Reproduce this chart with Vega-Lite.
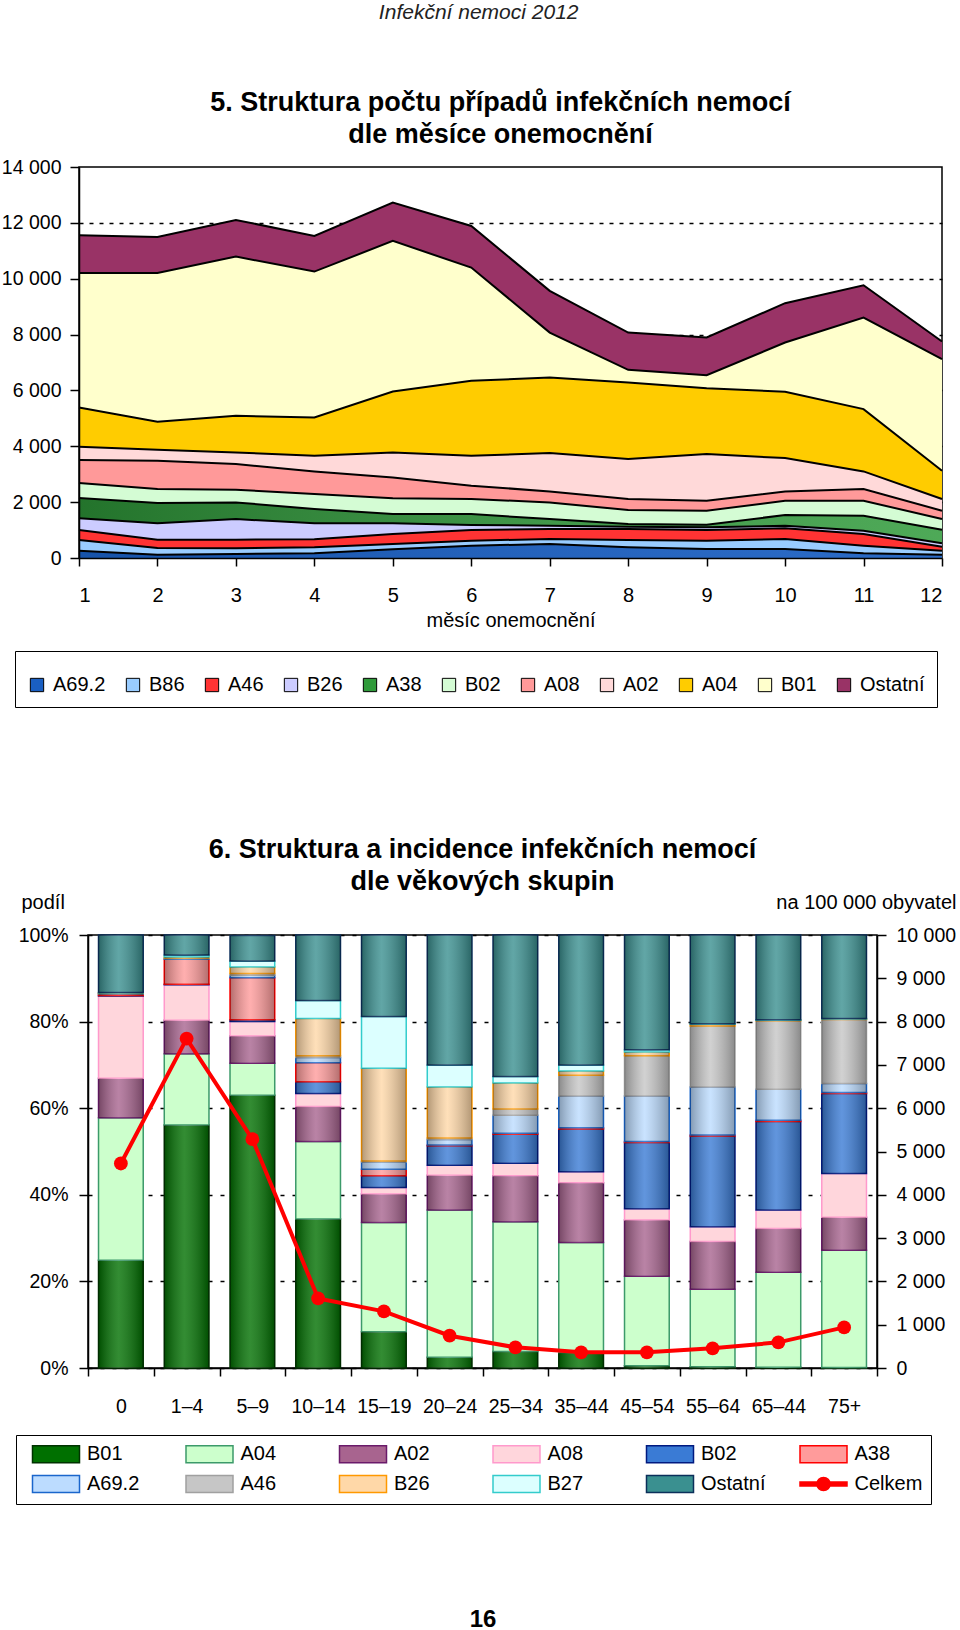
{
  "$schema": "https://vega.github.io/schema/vega-lite/v6.json",
  "padding": {"top": 2, "left": 0, "right": 0, "bottom": 0},
  "background": "white",
  "title": {"text": "Infekční nemoci 2012", "font": "Liberation Sans", "fontSize": 21, "fontStyle": "italic", "fontWeight": "normal", "color": "#222222", "anchor": "middle", "offset": 65},
  "bounds": "flush",
  "spacing": 377,
  "resolve": {"scale": {"fill": "independent", "stroke": "independent", "shape": "independent"}, "legend": {"fill": "independent", "stroke": "independent", "shape": "independent"}},
  "datasets": {
    "months": [
      {"m":1,"s":"A69.2","v":262},{"m":1,"s":"B86","v":382},{"m":1,"s":"A46","v":358},{"m":1,"s":"B26","v":417},{"m":1,"s":"A38","v":728},{"m":1,"s":"B02","v":536},{"m":1,"s":"A08","v":823},{"m":1,"s":"A02","v":477},{"m":1,"s":"A04","v":1407},{"m":1,"s":"B01","v":4818},{"m":1,"s":"Ostatní","v":1347},
      {"m":2,"s":"A69.2","v":119},{"m":2,"s":"B86","v":239},{"m":2,"s":"A46","v":298},{"m":2,"s":"B26","v":584},{"m":2,"s":"A38","v":728},{"m":2,"s":"B02","v":500},{"m":2,"s":"A08","v":1014},{"m":2,"s":"A02","v":394},{"m":2,"s":"A04","v":1001},{"m":2,"s":"B01","v":5331},{"m":2,"s":"Ostatní","v":1288},
      {"m":3,"s":"A69.2","v":143},{"m":3,"s":"B86","v":203},{"m":3,"s":"A46","v":310},{"m":3,"s":"B26","v":739},{"m":3,"s":"A38","v":596},{"m":3,"s":"B02","v":454},{"m":3,"s":"A08","v":918},{"m":3,"s":"A02","v":417},{"m":3,"s":"A04","v":1312},{"m":3,"s":"B01","v":5700},{"m":3,"s":"Ostatní","v":1312},
      {"m":4,"s":"A69.2","v":167},{"m":4,"s":"B86","v":215},{"m":4,"s":"A46","v":286},{"m":4,"s":"B26","v":572},{"m":4,"s":"A38","v":513},{"m":4,"s":"B02","v":537},{"m":4,"s":"A08","v":810},{"m":4,"s":"A02","v":561},{"m":4,"s":"A04","v":1371},{"m":4,"s":"B01","v":5224},{"m":4,"s":"Ostatní","v":1276},
      {"m":5,"s":"A69.2","v":310},{"m":5,"s":"B86","v":191},{"m":5,"s":"A46","v":358},{"m":5,"s":"B26","v":381},{"m":5,"s":"A38","v":334},{"m":5,"s":"B02","v":561},{"m":5,"s":"A08","v":751},{"m":5,"s":"A02","v":894},{"m":5,"s":"A04","v":2183},{"m":5,"s":"B01","v":5390},{"m":5,"s":"Ostatní","v":1371},
      {"m":6,"s":"A69.2","v":441},{"m":6,"s":"B86","v":179},{"m":6,"s":"A46","v":382},{"m":6,"s":"B26","v":179},{"m":6,"s":"A38","v":393},{"m":6,"s":"B02","v":537},{"m":6,"s":"A08","v":477},{"m":6,"s":"A02","v":1073},{"m":6,"s":"A04","v":2683},{"m":6,"s":"B01","v":4055},{"m":6,"s":"Ostatní","v":1490},
      {"m":7,"s":"A69.2","v":501},{"m":7,"s":"B86","v":179},{"m":7,"s":"A46","v":357},{"m":7,"s":"B26","v":120},{"m":7,"s":"A38","v":238},{"m":7,"s":"B02","v":596},{"m":7,"s":"A08","v":394},{"m":7,"s":"A02","v":1371},{"m":7,"s":"A04","v":2707},{"m":7,"s":"B01","v":1610},{"m":7,"s":"Ostatní","v":1491},
      {"m":8,"s":"A69.2","v":382},{"m":8,"s":"B86","v":262},{"m":8,"s":"A46","v":393},{"m":8,"s":"B26","v":84},{"m":8,"s":"A38","v":95},{"m":8,"s":"B02","v":501},{"m":8,"s":"A08","v":394},{"m":8,"s":"A02","v":1431},{"m":8,"s":"A04","v":2742},{"m":8,"s":"B01","v":454},{"m":8,"s":"Ostatní","v":1335},
      {"m":9,"s":"A69.2","v":322},{"m":9,"s":"B86","v":298},{"m":9,"s":"A46","v":382},{"m":9,"s":"B26","v":95},{"m":9,"s":"A38","v":96},{"m":9,"s":"B02","v":500},{"m":9,"s":"A08","v":358},{"m":9,"s":"A02","v":1670},{"m":9,"s":"A04","v":2361},{"m":9,"s":"B01","v":465},{"m":9,"s":"Ostatní","v":1347},
      {"m":10,"s":"A69.2","v":322},{"m":10,"s":"B86","v":358},{"m":10,"s":"A46","v":381},{"m":10,"s":"B26","v":96},{"m":10,"s":"A38","v":381},{"m":10,"s":"B02","v":513},{"m":10,"s":"A08","v":334},{"m":10,"s":"A02","v":1193},{"m":10,"s":"A04","v":2373},{"m":10,"s":"B01","v":1764},{"m":10,"s":"Ostatní","v":1408},
      {"m":11,"s":"A69.2","v":167},{"m":11,"s":"B86","v":274},{"m":11,"s":"A46","v":418},{"m":11,"s":"B26","v":119},{"m":11,"s":"A38","v":536},{"m":11,"s":"B02","v":537},{"m":11,"s":"A08","v":417},{"m":11,"s":"A02","v":632},{"m":11,"s":"A04","v":2230},{"m":11,"s":"B01","v":3280},{"m":11,"s":"Ostatní","v":1157},
      {"m":12,"s":"A69.2","v":119},{"m":12,"s":"B86","v":143},{"m":12,"s":"A46","v":143},{"m":12,"s":"B26","v":120},{"m":12,"s":"A38","v":489},{"m":12,"s":"B02","v":381},{"m":12,"s":"A08","v":298},{"m":12,"s":"A02","v":418},{"m":12,"s":"A04","v":1013},{"m":12,"s":"B01","v":3995},{"m":12,"s":"Ostatní","v":632}
    ],
    "ages": [
      {"a":"0","s":"B01","p":24.9},{"a":"0","s":"A04","p":32.9},{"a":"0","s":"A02","p":9.1},{"a":"0","s":"A08","p":19.0},{"a":"0","s":"B02","p":0.1},{"a":"0","s":"A38","p":0.4},{"a":"0","s":"A69.2","p":0.1},{"a":"0","s":"B26","p":0.1},{"a":"0","s":"B27","p":0.1},{"a":"0","s":"Ostatní","p":13.3},
      {"a":"1–4","s":"B01","p":56.1},{"a":"1–4","s":"A04","p":16.5},{"a":"1–4","s":"A02","p":7.7},{"a":"1–4","s":"A08","p":8.2},{"a":"1–4","s":"B02","p":0.1},{"a":"1–4","s":"A38","p":5.8},{"a":"1–4","s":"A69.2","p":0.2},{"a":"1–4","s":"A46","p":0.1},{"a":"1–4","s":"B26","p":0.2},{"a":"1–4","s":"B27","p":0.5},{"a":"1–4","s":"Ostatní","p":4.6},
      {"a":"5–9","s":"B01","p":63.0},{"a":"5–9","s":"A04","p":7.4},{"a":"5–9","s":"A02","p":6.3},{"a":"5–9","s":"A08","p":3.3},{"a":"5–9","s":"B02","p":0.4},{"a":"5–9","s":"A38","p":9.7},{"a":"5–9","s":"A69.2","p":0.6},{"a":"5–9","s":"A46","p":0.4},{"a":"5–9","s":"B26","p":1.5},{"a":"5–9","s":"B27","p":1.4},{"a":"5–9","s":"Ostatní","p":5.9},
      {"a":"10–14","s":"B01","p":34.4},{"a":"10–14","s":"A04","p":17.9},{"a":"10–14","s":"A02","p":8.1},{"a":"10–14","s":"A08","p":3.0},{"a":"10–14","s":"B02","p":2.7},{"a":"10–14","s":"A38","p":4.4},{"a":"10–14","s":"A69.2","p":1.2},{"a":"10–14","s":"A46","p":0.4},{"a":"10–14","s":"B26","p":8.6},{"a":"10–14","s":"B27","p":4.2},{"a":"10–14","s":"Ostatní","p":15.1},
      {"a":"15–19","s":"B01","p":8.4},{"a":"15–19","s":"A04","p":25.2},{"a":"15–19","s":"A02","p":6.6},{"a":"15–19","s":"A08","p":1.5},{"a":"15–19","s":"B02","p":2.7},{"a":"15–19","s":"A38","p":1.5},{"a":"15–19","s":"A69.2","p":1.7},{"a":"15–19","s":"A46","p":0.2},{"a":"15–19","s":"B26","p":21.4},{"a":"15–19","s":"B27","p":12.0},{"a":"15–19","s":"Ostatní","p":18.8},
      {"a":"20–24","s":"B01","p":2.5},{"a":"20–24","s":"A04","p":34.0},{"a":"20–24","s":"A02","p":8.0},{"a":"20–24","s":"A08","p":2.3},{"a":"20–24","s":"B02","p":4.5},{"a":"20–24","s":"A38","p":0.2},{"a":"20–24","s":"A69.2","p":1.3},{"a":"20–24","s":"A46","p":0.3},{"a":"20–24","s":"B26","p":11.8},{"a":"20–24","s":"B27","p":5.1},{"a":"20–24","s":"Ostatní","p":30.0},
      {"a":"25–34","s":"B01","p":3.8},{"a":"25–34","s":"A04","p":30.0},{"a":"25–34","s":"A02","p":10.6},{"a":"25–34","s":"A08","p":2.9},{"a":"25–34","s":"B02","p":6.7},{"a":"25–34","s":"A38","p":0.2},{"a":"25–34","s":"A69.2","p":4.2},{"a":"25–34","s":"A46","p":1.4},{"a":"25–34","s":"B26","p":6.0},{"a":"25–34","s":"B27","p":1.5},{"a":"25–34","s":"Ostatní","p":32.7},
      {"a":"35–44","s":"B01","p":3.6},{"a":"35–44","s":"A04","p":25.4},{"a":"35–44","s":"A02","p":13.8},{"a":"35–44","s":"A08","p":2.5},{"a":"35–44","s":"B02","p":9.9},{"a":"35–44","s":"A38","p":0.3},{"a":"35–44","s":"A69.2","p":7.3},{"a":"35–44","s":"A46","p":4.8},{"a":"35–44","s":"B26","p":1.0},{"a":"35–44","s":"B27","p":1.4},{"a":"35–44","s":"Ostatní","p":30.0},
      {"a":"45–54","s":"B01","p":0.5},{"a":"45–54","s":"A04","p":20.7},{"a":"45–54","s":"A02","p":13.0},{"a":"45–54","s":"A08","p":2.6},{"a":"45–54","s":"B02","p":15.3},{"a":"45–54","s":"A38","p":0.2},{"a":"45–54","s":"A69.2","p":10.5},{"a":"45–54","s":"A46","p":9.3},{"a":"45–54","s":"B26","p":0.9},{"a":"45–54","s":"B27","p":0.5},{"a":"45–54","s":"Ostatní","p":26.5},
      {"a":"55–64","s":"B01","p":0.3},{"a":"55–64","s":"A04","p":17.9},{"a":"55–64","s":"A02","p":11.0},{"a":"55–64","s":"A08","p":3.4},{"a":"55–64","s":"B02","p":21.0},{"a":"55–64","s":"A38","p":0.2},{"a":"55–64","s":"A69.2","p":11.1},{"a":"55–64","s":"A46","p":14.1},{"a":"55–64","s":"B26","p":0.4},{"a":"55–64","s":"B27","p":0.1},{"a":"55–64","s":"Ostatní","p":20.5},
      {"a":"65–44","s":"B01","p":0.2},{"a":"65–44","s":"A04","p":21.9},{"a":"65–44","s":"A02","p":10.1},{"a":"65–44","s":"A08","p":4.3},{"a":"65–44","s":"B02","p":20.4},{"a":"65–44","s":"A38","p":0.3},{"a":"65–44","s":"A69.2","p":7.2},{"a":"65–44","s":"A46","p":15.8},{"a":"65–44","s":"B26","p":0.1},{"a":"65–44","s":"B27","p":0.1},{"a":"65–44","s":"Ostatní","p":19.6},
      {"a":"75+","s":"B01","p":0.1},{"a":"75+","s":"A04","p":27.1},{"a":"75+","s":"A02","p":7.6},{"a":"75+","s":"A08","p":10.1},{"a":"75+","s":"B02","p":18.5},{"a":"75+","s":"A38","p":0.2},{"a":"75+","s":"A69.2","p":2.1},{"a":"75+","s":"A46","p":14.8},{"a":"75+","s":"B26","p":0.1},{"a":"75+","s":"B27","p":0.1},{"a":"75+","s":"Ostatní","p":19.3}
    ],
    "total": [
      {"a":"0","s":"Celkem","c":4723},{"a":"1–4","s":"Celkem","c":7608},{"a":"5–9","s":"Celkem","c":5285},{"a":"10–14","s":"Celkem","c":1608},{"a":"15–19","s":"Celkem","c":1308},{"a":"20–24","s":"Celkem","c":746},{"a":"25–34","s":"Celkem","c":477},{"a":"35–44","s":"Celkem","c":362},{"a":"45–54","s":"Celkem","c":362},{"a":"55–64","s":"Celkem","c":454},{"a":"65–44","s":"Celkem","c":592},{"a":"75+","s":"Celkem","c":938}
    ]
  },
  "vconcat": [
    {
      "width": 863,
      "height": 391,
      "title": {"text": ["5.  Struktura počtu případů infekčních nemocí", "dle měsíce onemocnění"], "frame": "group", "anchor": "middle", "dx": -10, "offset": 8, "fontSize": 27, "font": "Liberation Sans", "fontWeight": "bold", "lineHeight": 32, "color": "black"},
      "data": {"name": "months"},
      "transform": [
        {"calculate": "indexof(['A69.2','B86','A46','B26','A38','B02','A08','A02','A04','B01','Ostatní'], datum.s)", "as": "k"},
        {"stack": "v", "groupby": ["m"], "sort": [{"field": "k", "order": "ascending"}], "as": ["y0", "y1"]}
      ],
      "layer": [
        {
          "mark": {"type": "area"},
          "encoding": {
            "x": {"field": "m", "type": "quantitative", "scale": {"domain": [1, 12], "nice": false, "zero": false}, "axis": null},
            "y": {"field": "y1", "type": "quantitative", "scale": {"domain": [0, 14000], "nice": false}, "axis": {"orient": "left", "grid": true, "gridDash": [4, 6], "gridColor": "black", "gridWidth": 1.5, "values": [2000, 4000, 6000, 8000, 10000, 12000], "labels": false, "ticks": false, "domain": false, "title": null, "zindex": 0}},
            "y2": {"field": "y0"},
            "fill": {
              "field": "s", "type": "nominal",
              "scale": {"domain": ["A69.2","B86","A46","B26","A38","B02","A08","A02","A04","B01","Ostatní"], "range": ["#1a5fc2","#99ccff","#ff3333","#ccccff","#2f9a3a","#d4fcd4","#ff9999","#ffd9d9","#ffcc00","#ffffcc","#993366"]},
              "legend": {"orient": "none", "legendX": -64, "legendY": 484, "direction": "horizontal", "columns": 11, "title": null, "symbolType": "M-0.31,-0.31H0.31V0.31H-0.31Z", "symbolSize": 1849, "symbolStrokeColor": "black", "symbolStrokeWidth": 1, "symbolOffset": -12, "labelFontSize": 20, "labelOffset": -6, "columnPadding": 17, "padding": 12, "strokeColor": "black", "fillColor": "white", "gridAlign": "each", "labelFont": "Liberation Sans", "labelColor": "black"}
            }
          }
        },
        {
          "mark": {"type": "area", "fill": {"gradient": "linear", "x1": 0, "x2": 1, "y1": 0, "y2": 0, "stops": [{"offset": 0, "color": "rgba(0,0,0,0.25)"}, {"offset": 1, "color": "rgba(255,255,255,0.15)"}]}},
          "encoding": {
            "x": {"field": "m", "type": "quantitative", "scale": {"domain": [1, 12], "nice": false, "zero": false}, "axis": null},
            "y": {"field": "y1", "type": "quantitative", "scale": {"domain": [0, 14000], "nice": false}, "axis": null},
            "y2": {"field": "y0"},
            "detail": {"field": "s", "type": "nominal"},
            "opacity": {"condition": [{"test": "datum.s == 'A38'", "value": 1}, {"test": "datum.s == 'A69.2'", "value": 0.5}], "value": 0}
          }
        },
        {
          "mark": {"type": "line", "color": "black", "strokeWidth": 2},
          "encoding": {
            "x": {"field": "m", "type": "quantitative", "scale": {"domain": [1, 12], "nice": false, "zero": false}, "axis": {"orient": "bottom", "values": [1,2,3,4,5,6,7,8,9,10,11,12], "format": "d", "labelFontSize": 20, "labelPadding": 19, "tickSize": 8, "title": "měsíc onemocnění", "titlePadding": 5, "grid": false, "zindex": 1}},
            "y": {"field": "y1", "type": "quantitative", "scale": {"domain": [0, 14000], "nice": false}, "axis": {"orient": "left", "values": [0,2000,4000,6000,8000,10000,12000,14000], "labelExpr": "replace(format(datum.value, ','), ',', ' ')", "labelPadding": 9, "tickSize": 9, "title": null, "grid": false, "zindex": 1}},
            "detail": {"field": "s", "type": "nominal"}
          }
        }
      ],
      "resolve": {"axis": {"y": "independent", "x": "independent"}}
    },
    {
      "bounds": "flush",
      "spacing": 0,
      "resolve": {"scale": {"fill": "independent", "stroke": "independent", "shape": "independent"}},
      "hconcat": [
        {
          "width": 9,
          "height": 20,
          "view": {"stroke": null},
          "data": {"values": [{}]},
          "mark": {"type": "point", "opacity": 0},
          "encoding": {}
        },
        {
          "width": 789,
          "height": 433,
          "title": {"text": ["6.  Struktura a incidence infekčních nemocí", "dle věkových skupin"], "frame": "group", "anchor": "middle", "offset": -4, "fontSize": 27, "font": "Liberation Sans", "fontWeight": "bold", "lineHeight": 32, "color": "black"},
          "layer": [
            {
              "data": {"name": "ages"},
              "transform": [
                {"calculate": "indexof(['B01','A04','A02','A08','B02','A38','A69.2','A46','B26','B27','Ostatní'], datum.s)", "as": "k"},
                {"stack": "p", "groupby": ["a"], "sort": [{"field": "k", "order": "ascending"}], "as": ["y0", "y1"]}
              ],
              "mark": {"type": "bar", "width": {"band": 0.68}, "strokeWidth": 1.5},
              "encoding": {
                "x": {"field": "a", "type": "nominal", "scale": {"domain": ["0","1–4","5–9","10–14","15–19","20–24","25–34","35–44","45–54","55–64","65–44","75+"], "paddingInner": 0, "paddingOuter": 0}, "axis": {"orient": "bottom", "tickBand": "extent", "labelAngle": 0, "labelFontSize": 19.5, "labelPadding": 21, "tickSize": 8, "title": "16", "titleFontSize": 24, "titleFontWeight": "bold", "titleY": 251, "titleBaseline": "middle", "zindex": 0}},
                "y": {"field": "y1", "type": "quantitative", "scale": {"domain": [0, 100], "nice": false}, "axis": {"orient": "left", "values": [0,20,40,60,80,100], "labelExpr": "datum.value + '%'", "grid": true, "gridDash": [4, 8], "gridColor": "black", "gridWidth": 1.5, "title": "podíl", "titleAngle": 0, "titleX": -67, "titleY": -33, "titleAlign": "left", "titleBaseline": "middle", "titleFontSize": 20, "labelPadding": 11, "tickSize": 9, "zindex": 0}},
                "y2": {"field": "y0"},
                "fill": {
                  "field": "s", "type": "nominal",
                  "scale": {"domain": ["B01","A04","A02","A08","B02","A38","A69.2","A46","B26","B27","Ostatní","Celkem"], "range": ["#007000","#ccffcc","#a8648f","#ffd6dc","#3a7bd5","#ff9b9b","#bcdcff","#c6c6c6","#ffd8a8","#dcffff","#3a9090","#ff0000"]},
                  "legend": {"orient": "none", "legendX": -72, "legendY": 500, "direction": "horizontal", "columns": 6, "title": null, "symbolSize": 400, "symbolStrokeWidth": 1.5, "symbolOpacity": 1, "labelFontSize": 20, "labelFont": "Liberation Sans", "labelColor": "black", "labelOffset": 20, "columnPadding": 22.5, "rowPadding": 6, "padding": 8, "symbolOffset": 21, "strokeColor": "black", "fillColor": "white", "gridAlign": "all", "labelLimit": 200}
                },
                "stroke": {
                  "field": "s", "type": "nominal",
                  "scale": {"domain": ["B01","A04","A02","A08","B02","A38","A69.2","A46","B26","B27","Ostatní","Celkem"], "range": ["#003300","#3c9a6a","#6a1a6a","#ff99cc","#001a80","#ff0000","#1a66cc","#a0a0a0","#ff9900","#33cccc","#0b2f5a","#ff0000"]},
                  "legend": {"orient": "none", "legendX": -72, "legendY": 500, "direction": "horizontal", "columns": 6, "title": null, "symbolSize": 400, "symbolStrokeWidth": 1.5, "symbolOpacity": 1, "labelFontSize": 20, "labelFont": "Liberation Sans", "labelColor": "black", "labelOffset": 20, "columnPadding": 22.5, "rowPadding": 6, "padding": 8, "symbolOffset": 21, "strokeColor": "black", "fillColor": "white", "gridAlign": "all", "labelLimit": 200}
                }
              }
            },
            {
              "data": {"name": "ages"},
              "transform": [
                {"calculate": "indexof(['B01','A04','A02','A08','B02','A38','A69.2','A46','B26','B27','Ostatní'], datum.s)", "as": "k"},
                {"stack": "p", "groupby": ["a"], "sort": [{"field": "k", "order": "ascending"}], "as": ["y0", "y1"]}
              ],
              "mark": {"type": "bar", "width": {"band": 0.68}, "strokeWidth": 0, "fill": {"gradient": "linear", "x1": 0, "x2": 1, "y1": 0, "y2": 0, "stops": [{"offset": 0, "color": "rgba(0,0,0,0.3)"}, {"offset": 0.45, "color": "rgba(255,255,255,0.2)"}, {"offset": 1, "color": "rgba(0,0,0,0.3)"}]}},
              "encoding": {
                "x": {"field": "a", "type": "nominal", "axis": null},
                "y": {"field": "y1", "type": "quantitative", "scale": {"domain": [0, 100], "nice": false}, "axis": null},
                "y2": {"field": "y0"},
                "opacity": {"condition": {"test": "indexof(['B01','A02','B02','A38','A69.2','A46','B26','Ostatní'], datum.s) >= 0", "value": 1}, "value": 0}
              }
            },
            {
              "data": {"name": "total"},
              "mark": {"type": "line", "color": "#ff0000", "strokeWidth": 4},
              "encoding": {
                "x": {"field": "a", "type": "nominal", "axis": null},
                "y": {"field": "c", "type": "quantitative", "scale": {"domain": [0, 10000], "nice": false}, "axis": {"orient": "right", "values": [0,1000,2000,3000,4000,5000,6000,7000,8000,9000,10000], "labelExpr": "replace(format(datum.value, ','), ',', ' ')", "grid": false, "title": "na 100 000 obyvatel", "titleAngle": 0, "titleX": 79, "titleY": -33, "titleAlign": "right", "titleBaseline": "middle", "titleFontSize": 20, "labelPadding": 10, "tickSize": 9, "zindex": 0}}
              }
            },
            {
              "data": {"name": "total"},
              "mark": {"type": "point", "filled": true, "shape": "circle", "size": 190, "color": "#ff0000", "opacity": 1},
              "encoding": {
                "x": {"field": "a", "type": "nominal", "axis": null},
                "y": {"field": "c", "type": "quantitative", "scale": {"domain": [0, 10000], "nice": false}, "axis": null}
              }
            },
            {
              "data": {"name": "total"},
              "transform": [{"filter": "false"}],
              "mark": {"type": "point", "filled": true, "opacity": 1},
              "encoding": {
                "x": {"field": "a", "type": "nominal", "axis": null},
                "y": {"field": "c", "type": "quantitative", "scale": {"domain": [0, 10000], "nice": false}, "axis": null},
                "fill": {"field": "s", "type": "nominal"},
                "stroke": {"field": "s", "type": "nominal"},
                "shape": {
                  "field": "s", "type": "nominal",
                  "scale": {"domain": ["B01","A04","A02","A08","B02","A38","A69.2","A46","B26","B27","Ostatní","Celkem"], "range": ["M-2.35,-0.85H2.35V0.85H-2.35Z","M-2.35,-0.85H2.35V0.85H-2.35Z","M-2.35,-0.85H2.35V0.85H-2.35Z","M-2.35,-0.85H2.35V0.85H-2.35Z","M-2.35,-0.85H2.35V0.85H-2.35Z","M-2.35,-0.85H2.35V0.85H-2.35Z","M-2.35,-0.85H2.35V0.85H-2.35Z","M-2.35,-0.85H2.35V0.85H-2.35Z","M-2.35,-0.85H2.35V0.85H-2.35Z","M-2.35,-0.85H2.35V0.85H-2.35Z","M-2.35,-0.85H2.35V0.85H-2.35Z","M-2.35,-0.2H2.35V0.2H-2.35Z M0.66,0A0.66,0.66,0,1,1,-0.66,0A0.66,0.66,0,1,1,0.66,0Z"]},
                  "legend": {"orient": "none", "legendX": -72, "legendY": 500, "direction": "horizontal", "columns": 6, "title": null, "symbolSize": 400, "symbolStrokeWidth": 1.5, "symbolOpacity": 1, "labelFontSize": 20, "labelFont": "Liberation Sans", "labelColor": "black", "labelOffset": 20, "columnPadding": 22.5, "rowPadding": 6, "padding": 8, "symbolOffset": 21, "strokeColor": "black", "fillColor": "white", "gridAlign": "all", "labelLimit": 200}
                }
              }
            }
          ],
          "resolve": {"scale": {"y": "independent"}, "axis": {"y": "independent", "x": "independent"}}
        }
      ]
    }
  ],
  "config": {
    "font": "Liberation Sans",
    "view": {"stroke": "black", "strokeWidth": 1.5},
    "axis": {"labelFont": "Liberation Sans", "labelFontSize": 19.5, "labelColor": "black", "titleFont": "Liberation Sans", "titleFontWeight": "normal", "titleColor": "black", "titleFontSize": 20, "domainColor": "black", "domainWidth": 1.5, "tickColor": "black", "tickWidth": 1.5, "tickSize": 8, "grid": false},
    "legend": {"labelFont": "Liberation Sans", "labelColor": "black"},
    "title": {"font": "Liberation Sans", "color": "black"}
  }
}
